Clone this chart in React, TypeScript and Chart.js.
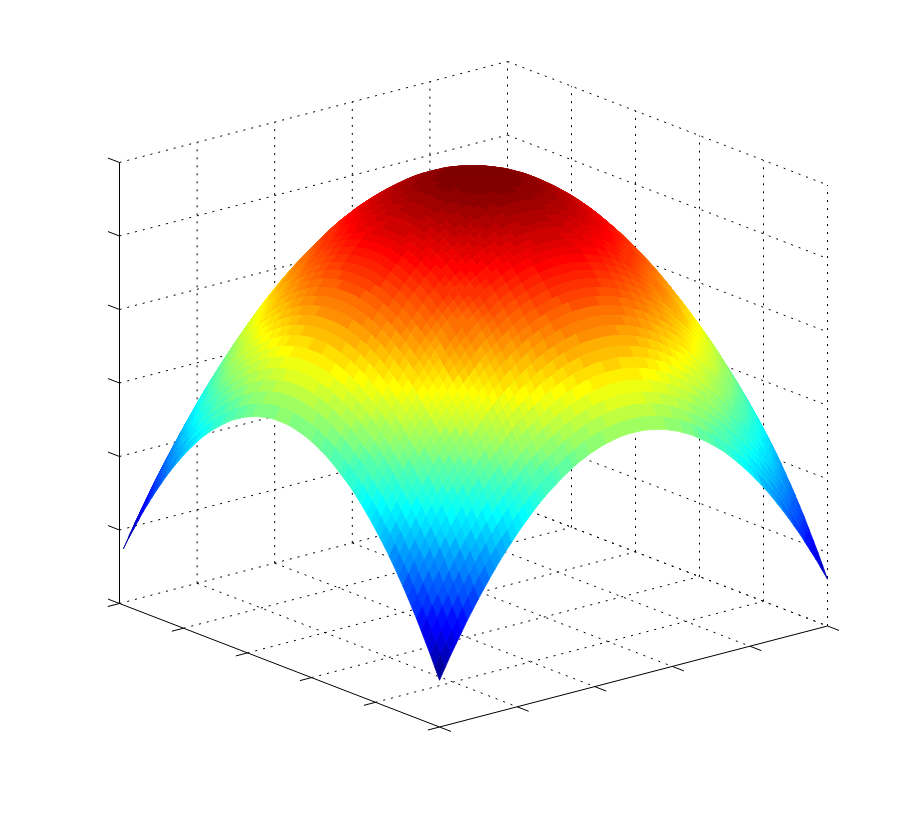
import React, { useEffect, useRef } from "react";
import { Chart, registerables } from "chart.js";

Chart.register(...registerables);

// Height of the surface (per mille of the z-axis range).
// Indexed by distance from the centre along each side; the surface is mirrored about its
// centre and symmetric between its two sides, so only the lower triangle is listed.
const zTriangle: number[][] = [
  [1000],
  [1000,1000],
  [999,999,998],
  [997,997,996,994],
  [994,994,993,991,988],
  [991,991,990,988,985,982],
  [987,987,986,984,981,978,974],
  [982,982,981,979,976,973,969,964],
  [977,977,976,974,971,968,964,959,954],
  [970,970,969,967,964,961,957,952,947,940],
  [964,964,963,961,958,955,951,946,941,934,928],
  [956,956,955,953,950,947,943,938,933,926,920,912],
  [947,947,946,944,941,938,934,929,924,917,911,903,894],
  [938,938,937,935,932,929,925,920,915,908,902,894,885,876],
  [928,928,927,925,922,919,915,910,905,898,892,884,875,866,856],
  [918,918,917,915,912,909,905,900,895,888,882,874,865,856,846,836],
  [907,907,906,904,901,898,894,889,884,877,871,863,854,845,835,825,814],
  [895,895,894,892,889,886,882,877,872,865,859,851,842,833,823,813,802,790],
  [882,882,881,879,876,873,869,864,859,852,846,838,829,820,810,800,789,777,764],
  [868,868,867,865,862,859,855,850,845,838,832,824,815,806,796,786,775,763,750,736],
  [854,854,853,851,848,845,841,836,831,824,818,810,801,792,782,772,761,749,736,722,708],
  [839,839,838,836,833,830,826,821,816,809,803,795,786,777,767,757,746,734,721,707,693,678],
  [823,823,822,820,817,814,810,805,800,793,787,779,770,761,751,741,730,718,705,691,677,662,646],
  [807,807,806,804,801,798,794,789,784,777,771,763,754,745,735,725,714,702,689,675,661,646,630,614],
  [790,790,789,787,784,781,777,772,767,760,754,746,737,728,718,708,697,685,672,658,644,629,613,597,580],
  [772,772,771,769,766,763,759,754,749,742,736,728,719,710,700,690,679,667,654,640,626,611,595,579,562,544],
  [753,753,752,750,747,744,740,735,730,723,717,709,700,691,681,671,660,648,635,621,607,592,576,560,543,525,506],
  [734,734,733,731,728,725,721,716,711,704,698,690,681,672,662,652,641,629,616,602,588,573,557,541,524,506,487,468],
  [714,714,713,711,708,705,701,696,691,684,678,670,661,652,642,632,621,609,596,582,568,553,537,521,504,486,467,448,428],
  [693,693,692,690,687,684,680,675,670,663,657,649,640,631,621,611,600,588,575,561,547,532,516,500,483,465,446,427,407,386],
  [672,672,671,669,666,663,659,654,649,642,636,628,619,610,600,590,579,567,554,540,526,511,495,479,462,444,425,406,386,365,344],
  [649,649,648,646,643,640,636,631,626,619,613,605,596,587,577,567,556,544,531,517,503,488,472,456,439,421,402,383,363,342,321,298],
  [626,626,625,623,620,617,613,608,603,596,590,582,573,564,554,544,533,521,508,494,480,465,449,433,416,398,379,360,340,319,298,275,252],
  [603,603,602,600,597,594,590,585,580,573,567,559,550,541,531,521,510,498,485,471,457,442,426,410,393,375,356,337,317,296,275,252,229,206],
  [578,578,577,575,572,569,565,560,555,548,542,534,525,516,506,496,485,473,460,446,432,417,401,385,368,350,331,312,292,271,250,227,204,181,156],
  [553,553,552,550,547,544,540,535,530,523,517,509,500,491,481,471,460,448,435,421,407,392,376,360,343,325,306,287,267,246,225,202,179,156,131,106],
];
// The surface stops just short of the box at its far-left end: this is that end row.
const zLeftEndRow: number[] = [574,574,573,571,568,565,561,556,551,544,538,530,521,512,502,492,481,469,456,442,428,413,397,381,364,346,327,308,288,267,246,223,200,177,152,127];
const leftEndPosition = 0.012;

const gridCellsPerHalf = 35;
const xTicks = [0, 0.2, 0.4, 0.6, 0.8, 1];
const yTicks = [0, 0.2, 0.4, 0.6, 0.8, 1];
const zTicks = [0, 1 / 6, 2 / 6, 3 / 6, 4 / 6, 5 / 6, 1];
const colorLevels = 64;

// Orthographic view of the axes box.
const view = {
  originX: 119.5,
  originY: 603.5,
  alongPX: 320,
  alongPY: 123.5,
  alongQX: 388,
  alongQY: -101,
  height: 441,
};

type P = { x: number; y: number };
const project = (p: number, q: number, z: number): P => ({
  x: view.originX + p * view.alongPX + q * view.alongQX,
  y: view.originY + p * view.alongPY + q * view.alongQY - z * view.height,
});

const clamp01 = (v: number) => Math.max(0, Math.min(1, v));
const jet = (index: number) => {
  const t = (index + 1) / colorLevels;
  const c = (v: number) => Math.round(clamp01(1.5 - Math.abs(4 * t - v)) * 255);
  return `rgb(${c(3)},${c(2)},${c(1)})`;
};

const zAt = (a: number, b: number) => zTriangle[Math.max(a, b)][Math.min(a, b)];

function surfaceDatasets() {
  const n = gridCellsPerHalf;
  const rowZ = (r: number, c: number) => (r < 0 ? zLeftEndRow[c] : zAt(r, c));
  const rows: { p: number; r: number }[] = [{ p: leftEndPosition, r: -1 }];
  for (let k = -(n - 2); k <= n; k++) rows.push({ p: (k + n) / (2 * n), r: Math.abs(k) });
  const qs: number[] = [];
  const colOf: number[] = [];
  for (let k = -n; k <= n; k++) {
    qs.push((k + n) / (2 * n));
    colOf.push(Math.abs(k));
  }
  let zMin = Infinity;
  let zMax = -Infinity;
  for (const r of rows)
    for (const c of colOf) {
      const v = rowZ(r.r, c);
      if (v < zMin) zMin = v;
      if (v > zMax) zMax = v;
    }

  const sets: any[] = [];
  // first dataset is painted last: nearest faces first in the array
  for (let i = rows.length - 2; i >= 0; i--) {
    for (let j = 0; j < qs.length - 1; j++) {
      const a = rows[i];
      const b = rows[i + 1];
      const c0 = colOf[j];
      const c1 = colOf[j + 1];
      const idx = Math.min(colorLevels - 1, Math.floor(((rowZ(a.r, c0) - zMin) / (zMax - zMin)) * colorLevels));
      const color = jet(idx);
      const pts = [
        project(a.p, qs[j], rowZ(a.r, c0) / 1000),
        project(b.p, qs[j], rowZ(b.r, c0) / 1000),
        project(b.p, qs[j + 1], rowZ(b.r, c1) / 1000),
        project(a.p, qs[j + 1], rowZ(a.r, c1) / 1000),
      ];
      pts.push(pts[0]);
      sets.push({
        data: pts,
        showLine: true,
        fill: "shape",
        backgroundColor: color,
        borderColor: color,
        borderWidth: 0.8,
        borderJoinStyle: "round",
        pointRadius: 0,
        tension: 0,
      });
    }
  }
  return sets;
}

const edge = (a: P, b: P, dotted: boolean) => ({
  data: [a, b],
  showLine: true,
  fill: false,
  borderColor: "#000000",
  borderWidth: 1,
  borderDash: dotted ? [2, 6] : [],
  pointRadius: 0,
  tension: 0,
});

function boxDatasets() {
  const sets: any[] = [];
  const tickP = 0.036;
  const tickQ = 0.03;
  // ticks and solid axes
  sets.push(edge(project(0, 0, 0), project(0, 0, 1), false));
  sets.push(edge(project(0, 0, 0), project(1, 0, 0), false));
  sets.push(edge(project(1, 0, 0), project(1, 1, 0), false));
  for (const z of zTicks) sets.push(edge(project(-tickP, 0, z), project(0, 0, z), false));
  for (const p of xTicks) sets.push(edge(project(p, -tickQ, 0), project(p, 0, 0), false));
  for (const q of yTicks) sets.push(edge(project(1, q, 0), project(1 + tickP, q, 0), false));
  // dotted grid on the walls and floor
  for (const z of zTicks) {
    sets.push(edge(project(0, 0, z), project(0, 1, z), true));
    sets.push(edge(project(0, 1, z), project(1, 1, z), true));
  }
  for (const q of yTicks) {
    if (q > 0) sets.push(edge(project(0, q, 0), project(0, q, 1), true));
    if (q > 0) sets.push(edge(project(0, q, 0), project(1, q, 0), true));
  }
  for (const p of xTicks) {
    if (p > 0) sets.push(edge(project(p, 1, 0), project(p, 1, 1), true));
    if (p > 0 && p < 1) sets.push(edge(project(p, 0, 0), project(p, 1, 0), true));
  }
  return sets;
}

export default function App() {
  const ref = useRef<HTMLCanvasElement>(null);
  useEffect(() => {
    document.body.style.margin = "0";
    document.body.style.background = "#ffffff";
    const chart = new Chart(ref.current as HTMLCanvasElement, {
      type: "scatter",
      data: { datasets: [...surfaceDatasets(), ...boxDatasets()] },
      options: {
        animation: false,
        responsive: false,
        events: [],
        layout: { padding: 0 },
        plugins: { legend: { display: false }, tooltip: { enabled: false } },
        scales: {
          x: { type: "linear", min: 0, max: 915, display: false },
          y: { type: "linear", min: 0, max: 817, reverse: true, display: false },
        },
      },
    } as any);
    return () => chart.destroy();
  }, []);
  return <canvas ref={ref} width={915} height={817} style={{ display: "block" }} />;
}
